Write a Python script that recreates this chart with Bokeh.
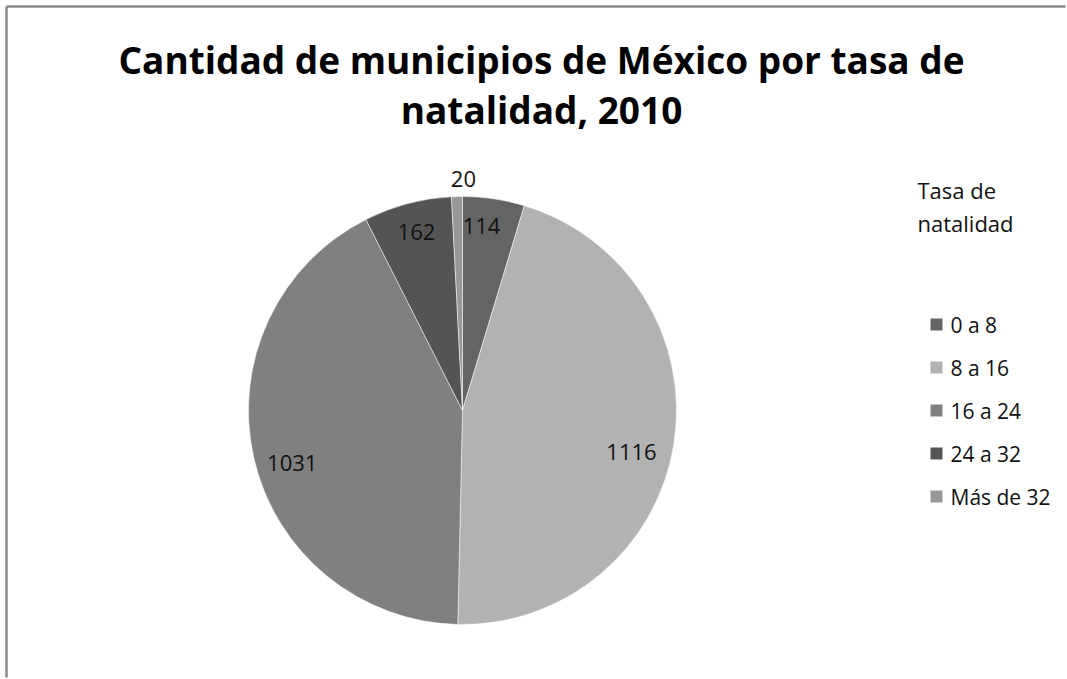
import math
from bokeh.plotting import figure
from bokeh.models import Range1d, ColumnDataSource
from bokeh.core.properties import value
from bokeh.embed import file_html
from bokeh.resources import INLINE

# ---- data ----
categories = ["0 a 8", "8 a 16", "16 a 24", "24 a 32", "Más de 32"]
counts = [114, 1116, 1031, 162, 20]
colors = ["#646464", "#b2b2b2", "#808080", "#545454", "#989898"]
title_lines = ["Cantidad de municipios de México por tasa de", "natalidad, 2010"]
legend_title = ["Tasa de", "natalidad"]

# label placement style (fraction of radius, angular nudge in degrees)
label_radius = [0.865, 0.813, 0.832, 0.86, 1.084]
label_nudge = [-2.5, 4.7, -4.2, 0.4, 1.7]

W, H = 1067, 679
FONT = "Open Sans"

p = figure(width=W, height=H, x_range=Range1d(0, W), y_range=Range1d(0, H),
           output_backend="svg", toolbar_location=None, min_border=0,
           outline_line_color=None, outline_line_alpha=0, outline_line_width=0,
           background_fill_color="white", border_fill_color="white")
p.xaxis.visible = False
p.yaxis.visible = False
p.xgrid.visible = False
p.ygrid.visible = False

# chart-area border (top and left visible)
p.segment(x0=[6, 6], y0=[2, H - 6], x1=[6, W - 2], y1=[H - 6, H - 6],
          line_color="#8a8a8a", line_width=2.5)

# pie
cx, cy, R = 462, 269, 214
total = sum(counts)
starts, ends, mids = [], [], []
acc = 0
for c in counts:
    a0 = acc / total
    acc += c
    a1 = acc / total
    starts.append(math.pi / 2 - a0 * 2 * math.pi)
    ends.append(math.pi / 2 - a1 * 2 * math.pi)
    mids.append(math.pi / 2 - (a0 + a1) / 2 * 2 * math.pi)

src = ColumnDataSource(dict(start=starts, end=ends, color=colors, cat=categories))
p.wedge(x=cx, y=cy, radius=R, start_angle="start", end_angle="end", direction="clock",
        fill_color="color", line_color="white", line_width=0.5, source=src)

ang = [m - math.radians(n) for m, n in zip(mids, label_nudge)]
lx = [cx + R * r * math.cos(a) for r, a in zip(label_radius, ang)]
ly = [cy + R * r * math.sin(a) for r, a in zip(label_radius, ang)]
p.text(x=lx, y=ly, text=[str(c) for c in counts], text_font=value(FONT),
       text_font_size="22px", text_color="#111111", text_align="center", text_baseline="middle")

# title
p.text(x=[541, 541], y=[620, 570], text=title_lines, text_font=value(FONT),
       text_font_style="bold", text_font_size="37px", text_color="black",
       text_align="center", text_baseline="alphabetic")

# legend title
p.text(x=[917, 917], y=[490, 457], text=legend_title, text_font=value(FONT),
       text_font_size="22px", text_color="#111111", text_align="left", text_baseline="alphabetic")

# legend items
ly0, step = 355, 43
leg_y = [ly0 - i * step for i in range(len(categories))]
p.rect(x=[936] * len(categories), y=leg_y, width=12, height=12, fill_color=colors, line_color=None)
p.text(x=[950] * len(categories), y=leg_y, text=categories, text_font=value(FONT),
       text_font_size="21px", text_color="#111111", text_align="left", text_baseline="middle")

# white strip along the right edge
p.segment(x0=[W - 1], y0=[0], x1=[W - 1], y1=[H - 8], line_color="white", line_width=4)

open("out.html", "w").write(file_html(p, INLINE))
